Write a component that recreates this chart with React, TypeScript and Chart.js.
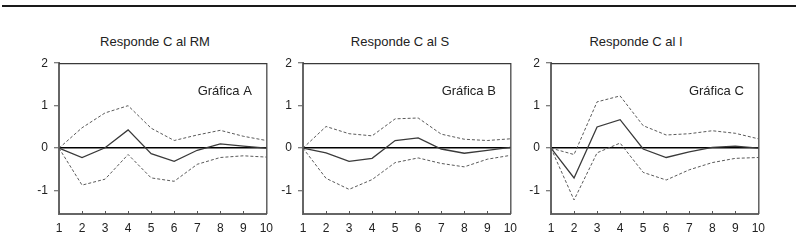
import React, { useEffect, useRef } from 'react';
import { Chart, registerables } from 'chart.js';

Chart.register(...registerables);

const FONT = '"Liberation Sans", Arial, Helvetica, sans-serif';

const periods = ['1', '2', '3', '4', '5', '6', '7', '8', '9', '10'];
const yTickValues = [-1, 0, 1, 2];

const titles = ['Responde C al RM', 'Responde C al S', 'Responde C al I'];
const tags = ['Gráfica A', 'Gráfica B', 'Gráfica C'];

const respRM = [0, -0.22, 0.01, 0.43, -0.13, -0.31, -0.05, 0.10, 0.05, 0.0];
const upperRM = [0, 0.48, 0.83, 1.0, 0.47, 0.18, 0.31, 0.42, 0.28, 0.18];
const lowerRM = [0, -0.87, -0.73, -0.15, -0.70, -0.78, -0.38, -0.22, -0.18, -0.21];

const respS = [0, -0.11, -0.31, -0.24, 0.18, 0.24, -0.02, -0.12, -0.05, 0.02];
const upperS = [0, 0.51, 0.34, 0.29, 0.69, 0.71, 0.33, 0.21, 0.18, 0.22];
const lowerS = [0, -0.71, -0.97, -0.74, -0.34, -0.23, -0.36, -0.44, -0.26, -0.17];

const respI = [0, -0.70, 0.50, 0.67, -0.02, -0.22, -0.09, 0.02, 0.05, 0.0];
const upperI = [0, -0.15, 1.09, 1.23, 0.53, 0.31, 0.34, 0.41, 0.35, 0.22];
const lowerI = [0, -1.22, -0.11, 0.12, -0.57, -0.75, -0.51, -0.34, -0.24, -0.22];

const panelSeries = [
  { mid: respRM, up: upperRM, lo: lowerRM },
  { mid: respS, up: upperS, lo: lowerS },
  { mid: respI, up: upperI, lo: lowerI },
];

// layout (pixels)
const canvasLefts = [20, 264, 512];
const titleCenters = [155, 400, 636];
const CANVAS_W = 260;
const CANVAS_H = 190;
const CANVAS_TOP = 50;

const framePlugin = {
  id: 'frame',
  afterDatasetsDraw(chart: any, _args: any, opts: any) {
    const { ctx, chartArea: a, scales } = chart;
    const xs = scales.x;
    const ys = scales.y;
    ctx.save();
    ctx.setLineDash([]);
    ctx.strokeStyle = '#3a3a3a';
    ctx.lineWidth = 1.2;
    ctx.beginPath();
    ctx.moveTo(a.left, a.top + 0.5);
    ctx.lineTo(a.right + 0.5, a.top + 0.5);
    ctx.lineTo(a.right + 0.5, a.bottom);
    ctx.stroke();
    ctx.strokeStyle = '#555';
    ctx.lineWidth = 1;
    ctx.beginPath();
    xs.ticks.forEach((_t: any, i: number) => {
      const px = Math.round(xs.getPixelForTick(i)) + 0.5;
      ctx.moveTo(px, a.bottom);
      ctx.lineTo(px, a.bottom - 3);
    });
    ctx.stroke();
    ctx.font = '13px ' + FONT;
    ctx.fillStyle = '#222';
    ctx.textAlign = 'right';
    ctx.textBaseline = 'middle';
    ctx.fillText(opts.text, xs.getPixelForValue(opts.x), ys.getPixelForValue(opts.y));
    ctx.restore();
  },
};

function Panel({ idx }: { idx: number }) {
  const ref = useRef<HTMLCanvasElement | null>(null);
  useEffect(() => {
    if (!ref.current) return;
    const s = panelSeries[idx];
    const chart = new Chart(ref.current, {
      type: 'line',
      data: {
        labels: periods,
        datasets: [
          {
            data: s.up,
            borderColor: '#5a5a5a',
            borderWidth: 1,
            borderDash: [3, 2],
            pointRadius: 0,
            tension: 0,
            fill: false,
          },
          {
            data: s.lo,
            borderColor: '#5a5a5a',
            borderWidth: 1,
            borderDash: [3, 2],
            pointRadius: 0,
            tension: 0,
            fill: false,
          },
          {
            data: s.mid,
            borderColor: '#3a3a3a',
            borderWidth: 1.3,
            pointRadius: 0,
            tension: 0,
            fill: false,
          },
        ],
      },
      options: {
        animation: false,
        responsive: false,
        maintainAspectRatio: false,
        layout: { padding: { top: 10, right: 13, left: 0, bottom: 0 } },
        plugins: {
          legend: { display: false },
          tooltip: { enabled: false },
          title: { display: false },
          frame: { text: tags[idx], x: 8.37, y: 1.34 },
        } as any,
        scales: {
          x: {
            type: 'category',
            offset: false,
            grid: { display: true, drawOnChartArea: false, drawTicks: false },
            border: { display: true, color: '#666', width: 2 },
            ticks: {
              color: '#222',
              font: { family: FONT, size: 12 },
              padding: 7,
              maxRotation: 0,
              autoSkip: false,
            },
            afterFit(scale: any) {
              scale.height = 26;
            },
          },
          y: {
            type: 'linear',
            min: -1.55,
            max: 2,
            afterBuildTicks(scale: any) {
              scale.ticks = yTickValues.map((v) => ({ value: v }));
            },
            afterFit(scale: any) {
              scale.width = 39;
            },
            grid: {
              drawOnChartArea: true,
              drawTicks: true,
              tickLength: 5,
              tickColor: '#555',
              tickWidth: 1,
              color: (c: any) => (c.tick && c.tick.value === 0 ? '#000' : 'rgba(0,0,0,0)'),
              lineWidth: 1.5,
            },
            border: { display: true, color: '#666', width: 2 },
            ticks: {
              color: '#222',
              font: { family: FONT, size: 12 },
              padding: 6,
            },
          },
        },
      },
      plugins: [framePlugin as any],
    });
    return () => chart.destroy();
  }, [idx]);
  return (
    <canvas
      ref={ref}
      width={CANVAS_W}
      height={CANVAS_H}
      style={{
        position: 'absolute',
        left: canvasLefts[idx],
        top: CANVAS_TOP,
        width: CANVAS_W,
        height: CANVAS_H,
      }}
    />
  );
}

export default function App() {
  return (
    <div
      style={{
        position: 'absolute',
        left: 0,
        top: 0,
        width: 796,
        height: 240,
        background: '#fff',
        overflow: 'hidden',
        fontFamily: FONT,
      }}
    >
      <div
        style={{
          position: 'absolute',
          left: 2,
          top: 5,
          width: 794,
          height: 2,
          background: '#1a1a1a',
        }}
      />
      {titles.map((t, i) => (
        <div
          key={t}
          style={{
            position: 'absolute',
            left: titleCenters[i],
            top: 35,
            transform: 'translateX(-50%)',
            fontSize: 13,
            lineHeight: '13px',
            color: '#222',
            whiteSpace: 'nowrap',
          }}
        >
          {t}
        </div>
      ))}
      {[0, 1, 2].map((i) => (
        <Panel key={i} idx={i} />
      ))}
    </div>
  );
}
